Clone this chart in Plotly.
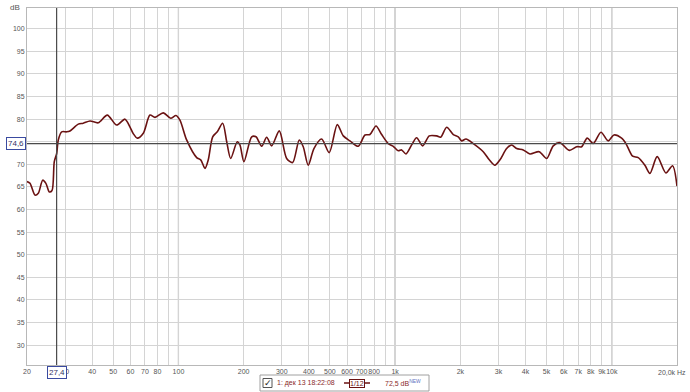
import math
import plotly.graph_objects as go

# ---- data ----
freq_hz = [20, 20.65, 21.77, 22.55, 23.63, 24.45, 25.35, 26.09, 26.73, 27.42, 27.89, 28.92,
           30.49, 31.58, 34.49, 36.37, 39.06, 42.66, 46.94, 51.88, 56.66, 59.7, 61.87, 64.56,
           68.84, 73.9, 77.94, 85.12, 92.07, 97.4, 101.6, 109.1, 121.4, 126.7, 132.6, 137.3,
           143.9, 151.1, 160.0, 167.0, 174.2, 186.8, 192.2, 200.6, 217.8, 228.0, 242.2, 255.4,
           269.4, 292.0, 315.8, 336.6, 361.1, 376.7, 397.2, 422.0, 458.0, 496.6, 540.8, 576.5,
           618.8, 676.0, 725.9, 765.6, 816.0, 866.8, 930.0, 980.6, 1034, 1072, 1122, 1192,
           1257, 1340, 1438, 1555, 1623, 1730, 1856, 1956, 2028, 2124, 2295, 2551, 2720, 2888,
           3047, 3272, 3451, 3639, 3903, 4191, 4625, 5007, 5368, 5765, 6364, 6884, 7260, 7705,
           8213, 8914, 9626, 10230, 11102, 11624, 12476, 13246, 14223, 14997, 16206, 17776,
           19087, 20000]
level_db = [66.2, 65.8, 63.2, 63.6, 66.5, 65.8, 63.9, 64.2, 70.6, 72.4, 75.4, 77.2,
            77.2, 77.4, 78.9, 79.1, 79.6, 79.2, 80.9, 78.7, 80.0, 78.3, 76.8, 75.8,
            76.9, 80.9, 80.4, 81.4, 80.2, 80.8, 79.8, 75.4, 71.5, 71.0, 69.1, 71.0,
            76.1, 77.2, 79.1, 75.0, 71.3, 75.0, 74.3, 70.6, 76.1, 76.1, 74.0, 76.0,
            74.1, 77.4, 71.3, 70.4, 75.4, 73.9, 69.8, 73.5, 75.6, 72.6, 78.8, 76.3,
            75.2, 74.0, 76.5, 76.6, 78.5, 76.6, 74.6, 74.0, 73.0, 73.2, 72.3, 74.3,
            75.9, 74.1, 76.3, 76.3, 76.0, 78.2, 76.6, 76.1, 75.2, 75.6, 74.6, 72.8, 71.0, 69.8,
            71.0, 73.5, 74.3, 73.5, 73.2, 72.3, 72.8, 71.3, 74.1, 74.8, 73.1, 73.9, 73.9, 75.8,
            74.6, 77.1, 75.2, 76.5, 75.8, 74.6, 71.8, 71.5, 69.8, 68.0, 71.7, 68.1,
            69.7, 65.2]

x_grid = [20, 30, 40, 50, 60, 70, 80, 90, 100, 200, 300, 400, 500, 600, 700, 800, 900,
          1000, 2000, 3000, 4000, 5000, 6000, 7000, 8000, 9000, 10000]
x_labels = ["20", "30", "40", "50", "60", "70", "80", "", "100", "200", "300", "400", "500",
            "600", "700", "800", "", "1k", "2k", "3k", "4k", "5k", "6k", "7k", "8k", "9k", "10k"]
x_major = [100, 1000, 10000]
y_ticks = [30, 35, 40, 45, 50, 55, 60, 65, 70, 75, 80, 85, 90, 95, 100]

cursor_freq = 27.4
cursor_db = 74.6
cursor_freq_label = "27,4"
cursor_db_label = "74,6"
legend_name = "1: дек 13 18:22:08"
legend_smoothing = "1/12"
legend_value = "72,5 dB"

# ---- figure ----
W, H = 690, 392
L, R, T, B = 27, 13, 8, 27
pw, ph = W - L - R, H - T - B

def px_x(px):
    return (px - L) / pw

def px_y(py):
    return (H - B - py) / ph

FONT = "Liberation Sans, Arial, sans-serif"
TICKC = "#555555"

fig = go.Figure()
fig.add_trace(go.Scatter(
    x=freq_hz, y=level_db, mode="lines",
    line=dict(color="#6a1212", width=1.6, shape="spline", smoothing=0.8),
    hoverinfo="skip", showlegend=False))

shapes = []
for f in x_major:
    shapes.append(dict(type="line", xref="x", yref="paper", x0=f, x1=f, y0=0, y1=1,
                       line=dict(color="#a8a8a8", width=1.2), layer="below"))
# cursor lines
shapes.append(dict(type="line", xref="x", yref="paper", x0=cursor_freq, x1=cursor_freq,
                   y0=0, y1=1, line=dict(color="#4a4a4a", width=1.2)))
shapes.append(dict(type="line", xref="paper", yref="y", x0=0, x1=1, y0=cursor_db,
                   y1=cursor_db, line=dict(color="#4a4a4a", width=1.2)))
# legend box
shapes.append(dict(type="rect", xref="paper", yref="paper",
                   x0=px_x(260), x1=px_x(429), y0=px_y(391), y1=px_y(375),
                   line=dict(color="#a0a0a0", width=1), fillcolor="white"))
# checkbox
shapes.append(dict(type="rect", xref="paper", yref="paper",
                   x0=px_x(263), x1=px_x(272), y0=px_y(387.5), y1=px_y(378.5),
                   line=dict(color="#555555", width=1), fillcolor="white"))
# legend line symbol
shapes.append(dict(type="line", xref="paper", yref="paper",
                   x0=px_x(344), x1=px_x(370), y0=px_y(383), y1=px_y(383),
                   line=dict(color="#6a1212", width=1.5)))
fig.update_layout(shapes=shapes)

ann = []
ann.append(dict(text="dB", xref="paper", yref="paper", x=px_x(8), y=px_y(1),
                xanchor="left", yanchor="top", showarrow=False,
                font=dict(family=FONT, size=8, color=TICKC)))
ann.append(dict(text="20,0k Hz", xref="paper", yref="paper", x=px_x(688), y=px_y(367),
                xanchor="right", yanchor="top", showarrow=False,
                font=dict(family=FONT, size=7, color=TICKC)))
ann.append(dict(text=cursor_freq_label, x=math.log10(cursor_freq), xref="x", yref="paper",
                y=px_y(366), yanchor="top", xanchor="center", showarrow=False,
                bgcolor="white", bordercolor="#3a4aa0", borderwidth=1, borderpad=1,
                font=dict(family=FONT, size=8, color="#333366")))
ann.append(dict(text=cursor_db_label, xref="paper", x=px_x(26), y=cursor_db, yref="y",
                xanchor="right", yanchor="middle", showarrow=False,
                bgcolor="white", bordercolor="#3a4aa0", borderwidth=1, borderpad=1,
                font=dict(family=FONT, size=8, color="#333366")))
ann.append(dict(text="✓", xref="paper", yref="paper", x=px_x(267.5), y=px_y(383),
                xanchor="center", yanchor="middle", showarrow=False,
                font=dict(family="DejaVu Sans", size=9, color="#222222")))
ann.append(dict(text=legend_name, xref="paper", yref="paper", x=px_x(275), y=px_y(383),
                xanchor="left", yanchor="middle", showarrow=False,
                font=dict(family=FONT, size=7, color="#8a2a2a")))
ann.append(dict(text=legend_smoothing, xref="paper", yref="paper", x=px_x(357), y=px_y(383),
                xanchor="center", yanchor="middle", showarrow=False,
                bgcolor="white", bordercolor="#6a1212", borderwidth=1, borderpad=0,
                font=dict(family=FONT, size=7, color="#6a1212")))
ann.append(dict(text=legend_value + "<sup><span style='color:#6070c0'>NEW</span></sup>",
                xref="paper", yref="paper", x=px_x(383), y=px_y(383),
                xanchor="left", yanchor="middle", showarrow=False,
                font=dict(family=FONT, size=7, color="#8a2a2a")))
fig.update_layout(annotations=ann)

fig.update_layout(
    width=W, height=H, margin=dict(l=L, r=R, t=T, b=B),
    paper_bgcolor="white", plot_bgcolor="white",
    xaxis=dict(type="log", range=[1.30103, 4.30103], tickvals=x_grid, ticktext=x_labels,
               tickangle=0, tickmode="array",
               showgrid=True, gridcolor="#d4d4d4", gridwidth=1, zeroline=False,
               showline=True, linecolor="#b8b8b8", linewidth=1, mirror=True,
               ticks="", tickfont=dict(family=FONT, size=7, color=TICKC)),
    yaxis=dict(range=[25.6, 104.6], tickvals=y_ticks,
               showgrid=True, gridcolor="#d4d4d4", gridwidth=1, zeroline=False,
               showline=True, linecolor="#b8b8b8", linewidth=1, mirror=True,
               ticks="", tickfont=dict(family=FONT, size=7, color=TICKC)),
)

fig.write_html("out.html")
